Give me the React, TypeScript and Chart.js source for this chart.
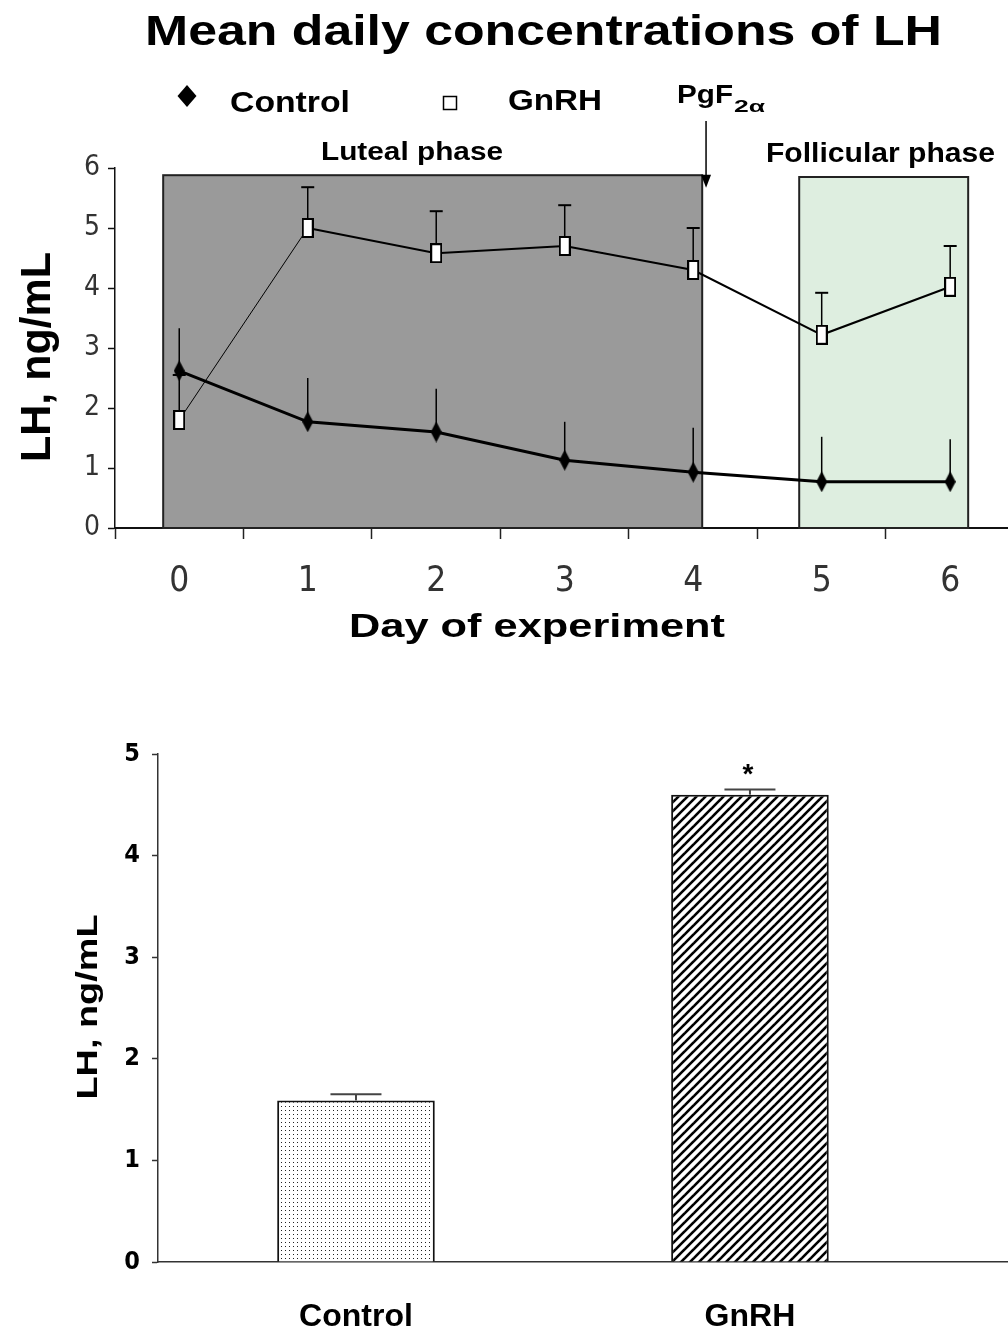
import React, { useEffect, useRef } from 'react';
import { Chart, registerables } from 'chart.js';

Chart.register(...registerables);

// ---------- Top chart data ----------
const days = [0, 1, 2, 3, 4, 5, 6];
const controlMean = [2.62, 1.77, 1.6, 1.13, 0.93, 0.77, 0.77];
const controlSem = [0.71, 0.73, 0.72, 0.64, 0.74, 0.75, 0.71];
const gnrhMean = [1.8, 5.0, 4.58, 4.7, 4.3, 3.22, 4.02];
const gnrhSem = [0.75, 0.68, 0.7, 0.68, 0.7, 0.7, 0.68];
const yTicksTop = [0, 1, 2, 3, 4, 5, 6];
const lutealRange = [-0.125, 4.07];
const lutealTop = 5.88;
const follicularRange = [4.825, 6.14];
const follicularTop = 5.85;
const pgfDay = 4.1;

// ---------- Bottom chart data ----------
const groups = ['Control', 'GnRH'];
const groupMean = [1.59, 4.6];
const groupSem = [0.06, 0.05];
const groupSig = ['', '*'];
const yTicksBottom = [0, 1, 2, 3, 4, 5];

const SANS = '"Liberation Sans", Arial, Helvetica, sans-serif';
const NARROW = '"Liberation Sans Narrow", "Arial Narrow", "DejaVu Sans Condensed", "Liberation Sans", sans-serif';

function drawFitted(ctx: CanvasRenderingContext2D, text: string, cx: number, baseline: number, size: number, width: number, align: 'center' | 'left' = 'center') {
  ctx.save();
  ctx.font = `bold ${size}px ${SANS}`;
  ctx.fillStyle = '#000';
  ctx.textBaseline = 'alphabetic';
  ctx.textAlign = align;
  const w = ctx.measureText(text).width;
  ctx.translate(cx, baseline);
  ctx.scale(width / w, 1);
  ctx.fillText(text, 0, 0);
  ctx.restore();
}

function drawFittedVertical(ctx: CanvasRenderingContext2D, text: string, baselineX: number, cy: number, size: number, length: number) {
  ctx.save();
  ctx.font = `bold ${size}px ${SANS}`;
  ctx.fillStyle = '#000';
  ctx.textBaseline = 'alphabetic';
  ctx.textAlign = 'center';
  const w = ctx.measureText(text).width;
  ctx.translate(baselineX, cy);
  ctx.rotate(-Math.PI / 2);
  ctx.scale(length / w, 1);
  ctx.fillText(text, 0, 0);
  ctx.restore();
}

function makeDiamond(w: number, h: number) {
  const c = document.createElement('canvas');
  c.width = w; c.height = h;
  const g = c.getContext('2d')!;
  g.fillStyle = '#000';
  g.beginPath();
  g.moveTo(w / 2, 0);
  g.lineTo(w, h / 2);
  g.lineTo(w / 2, h);
  g.lineTo(0, h / 2);
  g.closePath();
  g.fill();
  return c;
}

function makeSquare(w: number, h: number) {
  const c = document.createElement('canvas');
  c.width = w; c.height = h;
  const g = c.getContext('2d')!;
  g.fillStyle = '#fff';
  g.fillRect(0, 0, w, h);
  g.strokeStyle = '#000';
  g.lineWidth = 2;
  g.strokeRect(1, 1, w - 2, h - 2);
  return c;
}

function makeDots(ctx: CanvasRenderingContext2D) {
  const c = document.createElement('canvas');
  c.width = 4; c.height = 4;
  const g = c.getContext('2d')!;
  g.fillStyle = '#fff';
  g.fillRect(0, 0, 4, 4);
  g.fillStyle = '#222';
  g.fillRect(1, 1, 1, 1);
  return ctx.createPattern(c, 'repeat')!;
}

function makeHatch(ctx: CanvasRenderingContext2D) {
  const s = 9;
  const c = document.createElement('canvas');
  c.width = s; c.height = s;
  const g = c.getContext('2d')!;
  g.fillStyle = '#fff';
  g.fillRect(0, 0, s, s);
  g.strokeStyle = '#000';
  g.lineWidth = 2.6;
  for (const off of [-s, 0, s]) {
    g.beginPath();
    g.moveTo(off - 1, s + 1);
    g.lineTo(off + s + 1, -1);
    g.stroke();
  }
  return ctx.createPattern(c, 'repeat')!;
}

const zeroPad = (s: any) => {
  s.paddingLeft = 0;
  s.paddingRight = 0;
  s.paddingTop = 0;
  s.paddingBottom = 0;
};

export default function App() {
  const topRef = useRef<HTMLCanvasElement>(null);
  const botRef = useRef<HTMLCanvasElement>(null);

  useEffect(() => {
    const diamond = makeDiamond(11, 21);
    const square = makeSquare(12, 20);

    const topPlugin = {
      id: 'topDecor',
      beforeDatasetsDraw(chart: any) {
        const { ctx } = chart;
        const x = chart.scales.x;
        const y = chart.scales.y;
        const box = (range: number[], top: number, fill: string) => {
          const x0 = x.getPixelForValue(range[0]);
          const x1 = x.getPixelForValue(range[1]);
          const y0 = y.getPixelForValue(top);
          const y1 = y.getPixelForValue(0);
          ctx.save();
          ctx.fillStyle = fill;
          ctx.fillRect(x0, y0, x1 - x0, y1 - y0);
          ctx.strokeStyle = '#222';
          ctx.lineWidth = 2;
          ctx.strokeRect(x0, y0, x1 - x0, y1 - y0);
          ctx.restore();
        };
        box(lutealRange, lutealTop, '#9a9a9a');
        box(follicularRange, follicularTop, '#deeee0');

        ctx.save();
        ctx.strokeStyle = '#000';
        days.forEach((d, i) => {
          const px = x.getPixelForValue(d);
          ctx.lineWidth = 1.5;
          ctx.beginPath();
          ctx.moveTo(px, y.getPixelForValue(controlMean[i]));
          ctx.lineTo(px, y.getPixelForValue(controlMean[i] + controlSem[i]));
          ctx.stroke();
          const top = y.getPixelForValue(gnrhMean[i] + gnrhSem[i]);
          ctx.beginPath();
          ctx.moveTo(px, y.getPixelForValue(gnrhMean[i]));
          ctx.lineTo(px, top);
          ctx.stroke();
          ctx.lineWidth = 2;
          ctx.beginPath();
          ctx.moveTo(px - 6.5, top);
          ctx.lineTo(px + 6.5, top);
          ctx.stroke();
        });
        ctx.restore();
      },
      afterDraw(chart: any) {
        const { ctx } = chart;
        const x = chart.scales.x;
        const y = chart.scales.y;
        drawFitted(ctx, 'Mean daily concentrations of LH', 543.5, 45, 42, 797);
        // legend
        ctx.save();
        ctx.fillStyle = '#000';
        ctx.beginPath();
        ctx.moveTo(187, 85); ctx.lineTo(196.5, 96); ctx.lineTo(187, 107); ctx.lineTo(177.5, 96);
        ctx.closePath(); ctx.fill();
        ctx.fillStyle = '#fff';
        ctx.fillRect(443.5, 96.5, 13, 13);
        ctx.strokeStyle = '#000';
        ctx.lineWidth = 1.5;
        ctx.strokeRect(443.5, 96.5, 13, 13);
        ctx.restore();
        drawFitted(ctx, 'Control', 290, 112, 30, 120);
        drawFitted(ctx, 'GnRH', 555, 110, 30, 94);
        // PgF2a
        drawFitted(ctx, 'PgF', 677, 103, 25, 56, 'left');
        drawFitted(ctx, '2α', 734, 112, 17, 31, 'left');
        const ax = x.getPixelForValue(pgfDay);
        const tipY = y.getPixelForValue(5.67);
        ctx.save();
        ctx.strokeStyle = '#000';
        ctx.fillStyle = '#000';
        ctx.lineWidth = 1.5;
        ctx.beginPath();
        ctx.moveTo(ax, 121);
        ctx.lineTo(ax, tipY - 10);
        ctx.stroke();
        ctx.beginPath();
        ctx.moveTo(ax - 5, tipY - 13);
        ctx.lineTo(ax + 5, tipY - 13);
        ctx.lineTo(ax, tipY);
        ctx.closePath();
        ctx.fill();
        ctx.restore();
        drawFitted(ctx, 'Luteal phase', 412, 160, 26, 182);
        drawFitted(ctx, 'Follicular phase', 880.5, 162, 27, 229);
        drawFitted(ctx, 'Day of experiment', 537, 637, 34, 376);
        drawFittedVertical(ctx, 'LH, ng/mL', 50, 357, 43, 210);
      },
    };

    const c1 = new Chart(topRef.current!, {
      type: 'line',
      data: {
        datasets: [
          {
            label: 'Control',
            data: days.map((d, i) => ({ x: d, y: controlMean[i] })),
            borderColor: '#000',
            borderWidth: 3,
            pointStyle: diamond as any,
            pointRadius: 5,
            pointHoverRadius: 5,
            tension: 0,
          },
          {
            label: 'GnRH',
            data: days.map((d, i) => ({ x: d, y: gnrhMean[i] })),
            borderColor: '#000',
            borderWidth: 2,
            pointStyle: square as any,
            pointRadius: 5,
            pointHoverRadius: 5,
            tension: 0,
            segment: {
              borderWidth: (c: any) => (c.p0DataIndex === 0 ? 1 : 2),
            },
          },
        ],
      },
      options: {
        animation: false,
        responsive: true,
        maintainAspectRatio: false,
        events: [],
        layout: { autoPadding: false, padding: { top: 168, left: 0, right: 0, bottom: 0 } },
        plugins: { legend: { display: false }, tooltip: { enabled: false }, title: { display: false } },
        scales: {
          x: {
            type: 'linear',
            offset: false,
            min: -0.5,
            max: 6.45,
            afterBuildTicks: (s: any) => {
              const t: any[] = [];
              days.forEach((d) => { t.push({ value: d - 0.5 }); t.push({ value: d }); });
              s.ticks = t;
            },
            afterFit: (s: any) => { s.height = 137; zeroPad(s); },
            border: { display: true, color: '#111', width: 2 },
            grid: {
              offset: false,
              drawOnChartArea: false,
              drawTicks: true,
              tickLength: 11,
              tickWidth: 1.5,
              tickColor: (c: any) => (c.tick && days.includes(c.tick.value) ? 'rgba(0,0,0,0)' : '#222'),
            },
            ticks: {
              autoSkip: false,
              maxRotation: 0,
              padding: 22,
              color: '#333',
              font: { family: NARROW, size: 35 },
              callback: (v: any) => (days.includes(v) ? String(v) : ''),
            },
          },
          y: {
            type: 'linear',
            min: 0,
            max: 6,
            afterBuildTicks: (s: any) => { s.ticks = yTicksTop.map((v) => ({ value: v })); },
            afterFit: (s: any) => { s.width = 115; zeroPad(s); },
            border: { display: true, color: '#111', width: 1.5 },
            grid: { drawOnChartArea: false, drawTicks: true, tickLength: 7, tickColor: '#111', tickWidth: 1.5 },
            ticks: {
              padding: 8,
              color: '#333',
              font: { family: NARROW, size: 28 },
            },
          },
        },
      },
      plugins: [topPlugin],
    } as any);

    const bctx = botRef.current!.getContext('2d')!;
    const dots = makeDots(bctx);
    const hatch = makeHatch(bctx);

    const botPlugin = {
      id: 'botDecor',
      afterDatasetsDraw(chart: any) {
        const { ctx } = chart;
        const x = chart.scales.x;
        const y = chart.scales.y;
        groups.forEach((g, i) => {
          const px = x.getPixelForValue(i);
          const top = y.getPixelForValue(groupMean[i] + groupSem[i]);
          ctx.save();
          ctx.strokeStyle = '#444';
          ctx.lineWidth = 2;
          ctx.beginPath();
          ctx.moveTo(px - 25.5, top);
          ctx.lineTo(px + 25.5, top);
          ctx.stroke();
          ctx.beginPath();
          ctx.moveTo(px, top);
          ctx.lineTo(px, y.getPixelForValue(groupMean[i]));
          ctx.stroke();
          if (groupSig[i]) {
            ctx.fillStyle = '#000';
            ctx.font = `bold 28px ${SANS}`;
            ctx.textAlign = 'center';
            ctx.textBaseline = 'alphabetic';
            ctx.fillText(groupSig[i], px - 2, top - 7);
          }
          ctx.restore();
        });
        drawFittedVertical(ctx, 'LH, ng/mL', 97, 342, 30, 185);
      },
    };

    const c2 = new Chart(botRef.current!, {
      type: 'bar',
      data: {
        datasets: [
          {
            label: 'LH',
            data: groups.map((g, i) => ({ x: i, y: groupMean[i] })),
            backgroundColor: [dots, hatch],
            borderColor: '#111',
            borderWidth: 2,
            borderSkipped: 'bottom',
            barPercentage: 0.4,
            categoryPercentage: 1,
          },
        ],
      },
      options: {
        animation: false,
        responsive: true,
        maintainAspectRatio: false,
        events: [],
        layout: { autoPadding: false, padding: { top: 89, left: 0, right: 0, bottom: 0 } },
        plugins: { legend: { display: false }, tooltip: { enabled: false }, title: { display: false } },
        scales: {
          x: {
            type: 'linear',
            offset: false,
            min: -0.5025,
            max: 1.655,
            afterBuildTicks: (s: any) => { s.ticks = groups.map((g, i) => ({ value: i })); },
            afterFit: (s: any) => { s.height = 71; zeroPad(s); },
            border: { display: true, color: '#333', width: 1.5 },
            grid: { offset: false, drawOnChartArea: false, drawTicks: false },
            ticks: {
              autoSkip: false,
              maxRotation: 0,
              padding: 36,
              color: '#000',
              font: { family: SANS, size: 32, weight: 'bold' },
              callback: (v: any) => groups[v] ?? '',
            },
          },
          y: {
            type: 'linear',
            min: 0,
            max: 5,
            afterBuildTicks: (s: any) => { s.ticks = yTicksBottom.map((v) => ({ value: v })); },
            afterFit: (s: any) => { s.width = 158; zeroPad(s); },
            border: { display: true, color: '#333', width: 1.5 },
            grid: { drawOnChartArea: false, drawTicks: true, tickLength: 6, tickColor: '#333', tickWidth: 1.5 },
            ticks: {
              padding: 12,
              color: '#000',
              font: { family: NARROW, size: 25, weight: 'bold' },
            },
          },
        },
      },
      plugins: [botPlugin],
    } as any);

    return () => {
      c1.destroy();
      c2.destroy();
    };
  }, []);

  return (
    <div style={{ position: 'fixed', left: 0, top: 0, width: 1008, height: 1333, background: '#fff' }}>
      <div style={{ position: 'absolute', left: 0, top: 0, width: 1008, height: 665 }}>
        <canvas ref={topRef} />
      </div>
      <div style={{ position: 'absolute', left: 0, top: 665, width: 1008, height: 668 }}>
        <canvas ref={botRef} />
      </div>
    </div>
  );
}
